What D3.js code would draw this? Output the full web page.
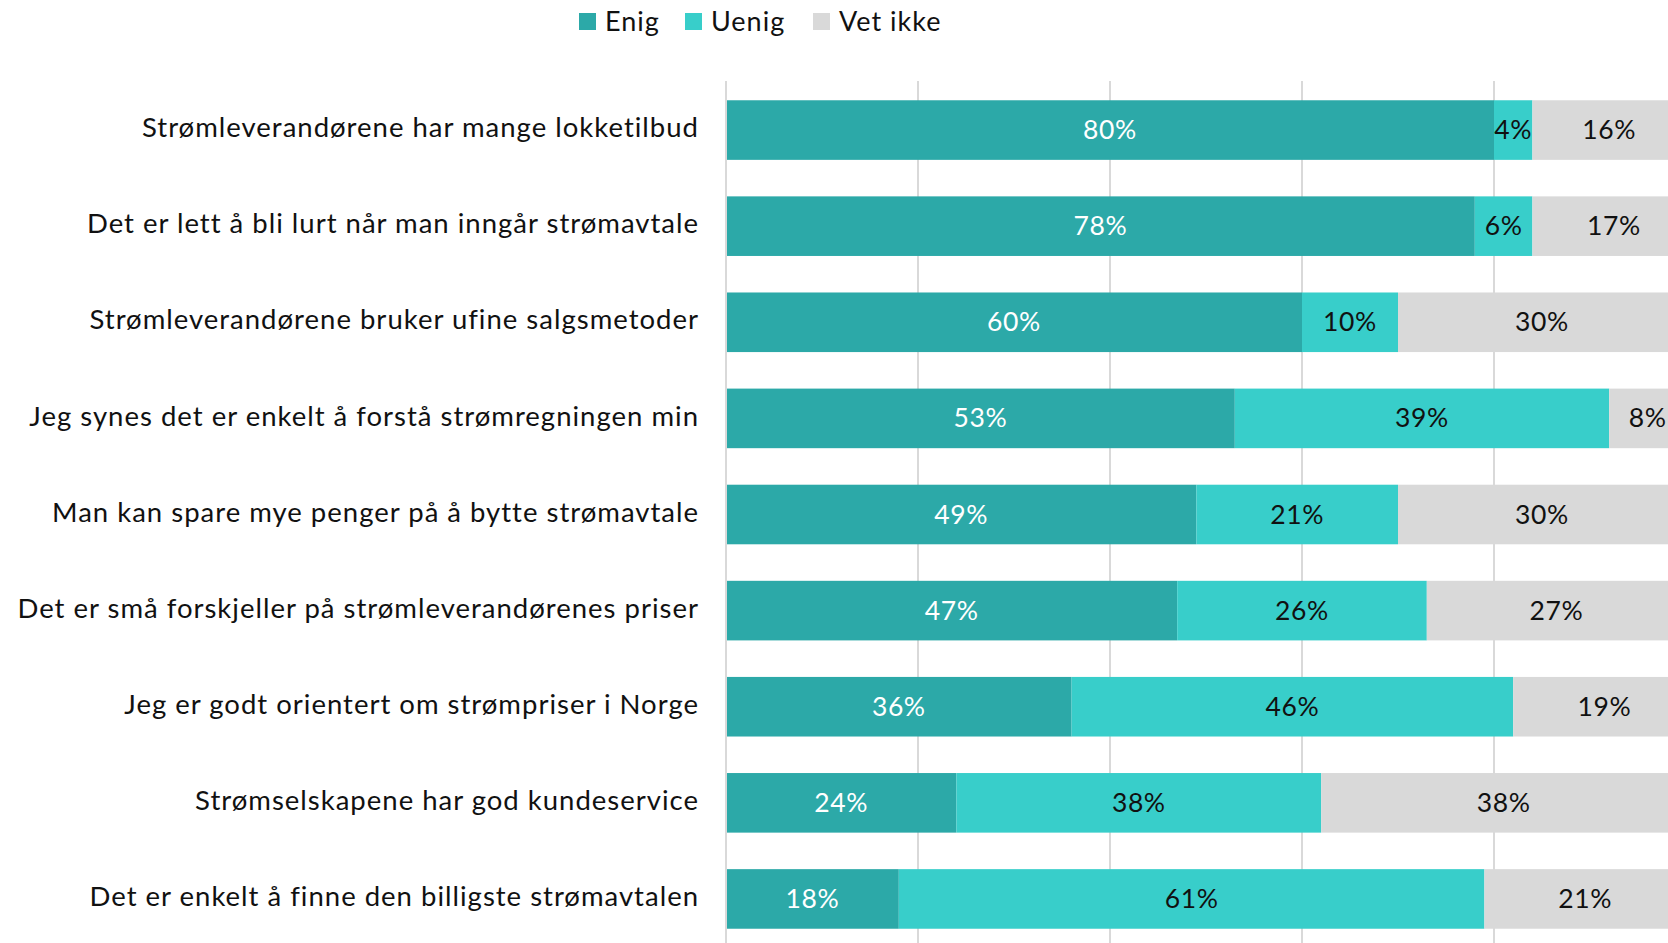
<!DOCTYPE html>
<html><head><meta charset="utf-8">
<script src="https://cdn.jsdelivr.net/npm/d3@7"></script>
<style>
html,body{margin:0;padding:0;background:#fff;overflow:hidden;}
text{font-family:Lato,"Open Sans",sans-serif;}
</style></head>
<body><svg id="chart" width="1668" height="943"></svg>
<script>
const categories = [
  "Strømleverandørene har mange lokketilbud",
  "Det er lett å bli lurt når man inngår strømavtale",
  "Strømleverandørene bruker ufine salgsmetoder",
  "Jeg synes det er enkelt å forstå strømregningen min",
  "Man kan spare mye penger på å bytte strømavtale",
  "Det er små forskjeller på strømleverandørenes priser",
  "Jeg er godt orientert om strømpriser i Norge",
  "Strømselskapene har god kundeservice",
  "Det er enkelt å finne den billigste strømavtalen"
];
const seriesNames = ["Enig", "Uenig", "Vet ikke"];
const enig    = [80, 78, 60, 53, 49, 47, 36, 24, 18];
const uenig   = [4, 6, 10, 39, 21, 26, 46, 38, 61];
const vetIkke = [16, 17, 30, 8, 30, 27, 19, 38, 21];
const xTicks  = [0, 20, 40, 60, 80, 100];
const colors  = ["#2CA9A8", "#38CECA", "#D9D9D9"];
const labelColors = ["#ffffff", "#111111", "#111111"];

const svg = d3.select("#chart");
const x = d3.scaleLinear().domain([0, 100]).range([726, 1686]);
const y = d3.scaleBand().domain(categories).range([82, 947]).paddingInner(0.38).paddingOuter(0.19);

// gridlines
svg.append("g").selectAll("line").data(xTicks).join("line")
  .attr("x1", d => x(d)).attr("x2", d => x(d))
  .attr("y1", 81).attr("y2", 943)
  .attr("stroke", "#D9D9D9").attr("stroke-width", 2);

const rows = categories.map((c, i) => ({cat: c, vals: [enig[i], uenig[i], vetIkke[i]]}));
const segs = [];
rows.forEach(r => {
  let acc = 0;
  r.vals.forEach((v, k) => { segs.push({cat: r.cat, k, v, x0: acc, x1: acc + v}); acc += v; });
});

svg.append("g").selectAll("rect").data(segs).join("rect")
  .attr("x", d => x(d.x0)).attr("width", d => x(d.x1) - x(d.x0))
  .attr("y", d => y(d.cat)).attr("height", y.bandwidth())
  .attr("fill", d => colors[d.k]);

svg.append("g").selectAll("text").data(segs).join("text")
  .attr("x", d => (x(d.x0) + x(d.x1)) / 2)
  .attr("y", d => y(d.cat) + y.bandwidth() / 2)
  .attr("dy", "0.34em").attr("text-anchor", "middle")
  .attr("font-size", 26.5).attr("letter-spacing", 0.6).attr("fill", d => labelColors[d.k])
  .text(d => d.v + "%");

// category axis
const yAxis = svg.append("g").attr("transform", "translate(726,0)")
  .call(d3.axisLeft(y).tickSize(0).tickPadding(27));
yAxis.select(".domain").attr("stroke", "#D9D9D9").attr("stroke-width", 2)
  .attr("d", "M0,81V943");
yAxis.selectAll("text").attr("font-size", 27.5).attr("letter-spacing", 1.0)
  .attr("dy", "0.26em").attr("fill", "#111").attr("font-family", "Lato");

// legend
const legendX = [579, 685, 813];
const lg = svg.append("g").selectAll("g").data(seriesNames).join("g")
  .attr("transform", (d, i) => `translate(${legendX[i]},13)`);
lg.append("rect").attr("width", 17).attr("height", 17).attr("fill", (d, i) => colors[i]);
lg.append("text").attr("x", 26).attr("y", 8.5).attr("dy", "0.36em")
  .attr("font-size", 27).attr("letter-spacing", 1).attr("fill", "#111").text(d => d);
</script></body></html>
